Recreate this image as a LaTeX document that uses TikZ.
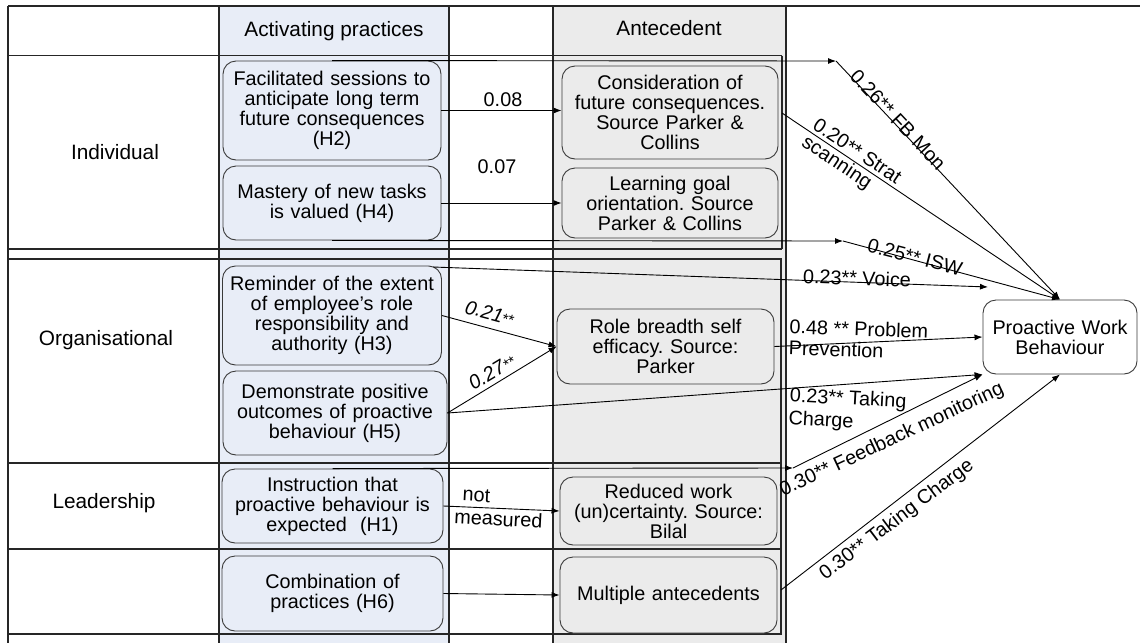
\documentclass[tikz,border=0pt]{standalone}
\usepackage{fontspec}
\setmainfont{Liberation Sans}
\usetikzlibrary{arrows.meta}
\definecolor{blueFill}{HTML}{E8EDF7}
\definecolor{grayFill}{HTML}{EBEBEB}
\definecolor{boxLine}{HTML}{3A3A3A}
\newcommand\bxfont{\fontsize{19.8}{20}\selectfont}
\newcommand\hdfont{\fontsize{20.8}{21}\selectfont}
\newcommand\starsm{{\fontsize{15}{15}\selectfont **}}
\frenchspacing
\begin{document}
\frenchspacing
\begin{tikzpicture}[x=1pt,y=-1pt,
  tline/.style={line width=1.4pt, black!85},
  bbox/.style={draw=boxLine, line width=0.9pt, rounded corners=13pt, align=center,
     inner sep=3pt, font=\bxfont},
  bluebox/.style={bbox, fill=blueFill},
  graybox/.style={bbox, fill=grayFill},
  arr/.style={line width=0.9pt, black, -{Latex[length=8pt,width=6pt]}},
  lbl/.style={font=\bxfont, inner sep=0pt},
  hdr/.style={font=\hdfont, inner sep=0pt}]
\useasboundingbox (0,0) rectangle (1140,643);
% column backgrounds
\fill[blueFill] (219,6) rectangle (449,643);
\fill[grayFill] (553,6) rectangle (786,643);
% table lines
\draw[tline] (8,6) -- (1140,6);
\foreach \xx in {8,219,449,553,786} \draw[tline] (\xx,6) -- (\xx,643);
\foreach \yy in {55.5,249,259,463,549,634} \draw[tline] (8,\yy) -- (782,\yy);
\draw[tline] (782,55.5) -- (782,249);
\draw[tline] (781,259) -- (781,634);
% headers and row labels
\node[hdr] (h1) at (334,31) {Activating practices};
\node[hdr] (h2) at (669,28) {Antecedent};
\node[hdr] (r1) at (115,152) {Individual};
\node[hdr] (r2) at (106,340) {Organisational};
\node[hdr] (r3) at (104,503) {Leadership};
% activating practice boxes
\node[bluebox, minimum width=218, minimum height=99, text width=210] (Fac) at (332,110.5)
  {Facilitated sessions to\\anticipate long term\\future consequences\\(H2)};
\node[bluebox, minimum width=218, minimum height=74, text width=210] (Mas) at (332,203)
  {Mastery of new tasks\\is valued (H4)};
\node[bluebox, minimum width=219, minimum height=99, text width=211] (Rem) at (332,315.5)
  {Reminder of the extent\\of employee’s role\\responsibility and\\authority (H3)};
\node[bluebox, minimum width=224, minimum height=84, text width=216] (Dem) at (335,413)
  {Demonstrate positive\\outcomes of proactive\\behaviour (H5)};
\node[bluebox, minimum width=221, minimum height=74, text width=213] (Ins) at (332.5,506)
  {Instruction that\\proactive behaviour is\\expected~ (H1)};
\node[bluebox, minimum width=221, minimum height=75, text width=213] (Com) at (332.5,593.5)
  {Combination of\\practices (H6)};
% antecedent boxes
\node[graybox, minimum width=216, minimum height=93, text width=208] (Con) at (670,112.5)
  {Consideration of\\future consequences.\\Source Parker \&\\Collins};
\node[graybox, minimum width=216, minimum height=70, text width=208] (Lea) at (670,203)
  {Learning goal\\orientation. Source\\Parker \& Collins};
\node[graybox, minimum width=217, minimum height=75, text width=209] (Rol) at (665.5,346.5)
  {Role breadth self\\efficacy. Source:\\Parker};
\node[graybox, minimum width=217, minimum height=68, text width=209] (Red) at (668.5,511)
  {Reduced work\\(un)certainty. Source:\\Bilal};
\node[graybox, minimum width=217, minimum height=76, text width=209] (Mul) at (668.5,595)
  {Multiple antecedents};
% outcome
\node[bbox, fill=white, minimum width=154, minimum height=74, text width=146] (PWB) at (1060,337)
  {Proactive Work\\Behaviour};
% free ends
\coordinate (fbm) at (836,61);
\coordinate (isw) at (843,241);
\coordinate (strat) at (782,113);
\coordinate (voice0) at (433,267);
\coordinate (voice1) at (988,287);
\coordinate (fbk) at (793,468);
\coordinate (tc0) at (781,590);
% practice -> antecedent
\draw[arr] (Fac.east) -- (Fac.east -| Con.west);
\draw[arr] (Mas.east) -- (Mas.east -| Lea.west);
\draw[arr] (Rem.east) -- (Rol.west);
\draw[arr] (Dem.east) -- (Rol.west);
\draw[arr] (Ins.east) -- (Red.west);
\draw[arr] (Com.east) -- (Mul.west);
% to outcome
\draw[arr] (Fac.north) -- (fbm);
\draw[arr] (fbm) -- (PWB.north);
\draw[arr] (strat) -- (PWB.north);
\draw[arr] (Mas.south) -- (isw);
\draw[arr] (isw) -- (PWB.north);
\draw[arr] (voice0) -- (voice1);
\draw[arr] (Rol.east) -- (PWB.west);
\draw[arr] (Dem.east) -- (PWB.south west);
\draw[arr] (Ins.north) -- (fbk);
\draw[arr] (fbk) -- (PWB.south west);
\draw[arr] (tc0) -- (PWB.south);
% labels
\node[lbl] (l1) at (503,100) {0.08};
\node[lbl] (l2) at (497,167) {0.07};
\node[lbl, rotate=-15] (l3) at (490,313) {\textit{0.21}\starsm};
\node[lbl, rotate=31] (l4) at (492,372) {\textit{0.27}\starsm};
\node[lbl, align=left, rotate=-3] (l5) at (499,508) {\hspace{7pt}not\\[3pt]measured};
\node[lbl, rotate=-46.7] (l6) at (898,120) {0.26** FB Mon};
\node[lbl, rotate=-33.7, align=left] (l7) at (851,161) {0.20** Strat\\scanning};
\node[lbl, rotate=-14.6] (l8) at (915,257) {0.25** ISW};
\node[lbl, rotate=-2] (l9) at (857,278) {0.23** Voice};
\node[lbl, align=left, anchor=west, rotate=-2] (l10) at (789,337) {0.48 ** Problem\\[1pt]Prevention};
\node[lbl, align=left, anchor=west, rotate=-3] (l11) at (789,408) {0.23** Taking\\[3pt]Charge};
\node[lbl, rotate=25] (l12) at (892,440) {0.30** Feedback monitoring};
\node[lbl, rotate=37] (l13) at (897,520) {0.30** Taking Charge};
\end{tikzpicture}
\end{document}
